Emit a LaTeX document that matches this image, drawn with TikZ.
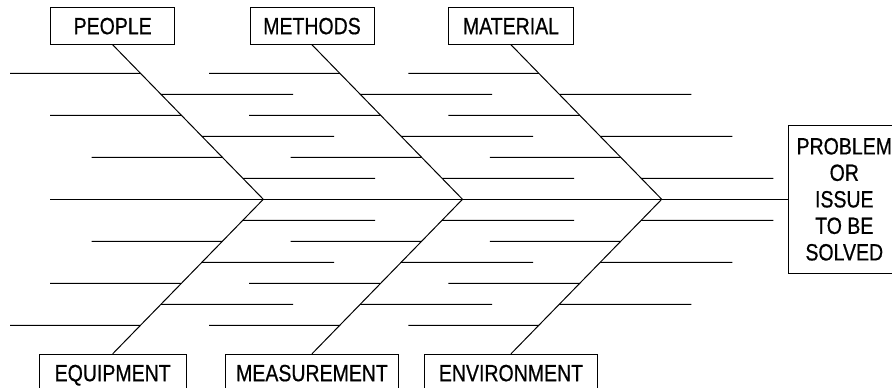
\documentclass[tikz,border=0pt]{standalone}
\usepackage{fontspec}
\setmainfont[FakeStretch=0.83,FakeBold=0.6]{Liberation Sans}
\usetikzlibrary{calc}
\begin{document}
\begin{tikzpicture}[x=1pt,y=-1pt,
  catbox/.style={draw, line width=1pt, minimum width=124pt, minimum height=37pt, inner sep=0pt,
    font=\fontsize{23.5}{26.5}\selectfont, text height=16.8pt, text depth=0pt},
  probbox/.style={draw, line width=1pt, minimum width=112pt, minimum height=148.3pt, inner sep=0pt,
    align=center, font=\fontsize{23.5}{26.5}\selectfont},
  bone/.style={line width=1pt},
  rib/.style={line width=1pt}]
\useasboundingbox (0,0) rectangle (892,388);
\node[catbox] (people) at (112.7,25.8) {PEOPLE};
\node[catbox] (methods) at (312,25.8) {METHODS};
\node[catbox, minimum width=124.6pt] (material) at (511,25.8) {MATERIAL};
\node[catbox, minimum width=146.7pt] (equip) at (112.7,372.8) {EQUIPMENT};
\node[catbox, minimum width=173.4pt] (meas) at (312,372.8) {MEASUREMENT};
\node[catbox, minimum width=173.4pt] (env) at (511,372.8) {ENVIRONMENT};
\node[probbox] (problem) at (844.3,199.3) {PROBLEM\\OR\\ISSUE\\TO BE\\SOLVED};
\coordinate (a0) at (263.3,199.3);
\coordinate (a1) at (462.5,199.3);
\coordinate (a2) at (661.7,199.3);
\coordinate (s) at (50,199.3);
\draw[bone] (s) -- (problem.west);
\foreach \tp/\bt/\ap/\o in {people/equip/a0/0, methods/meas/a1/199.2, material/env/a2/398.4}{
  \draw[bone] (\tp.south) -- (\ap) -- (\bt.north);
  \foreach \k/\xs in {0/10,2/50,4/91.5}{
    \coordinate (e) at (\xs+\o,73.3+21*\k);
    \draw[rib] (e) -- ($(\tp.south)!{(73.3+21*\k-44.8)/154.5}!(\ap)$);
  }
  \foreach \k/\xs in {1/293,3/334,5/375}{
    \coordinate (e) at (\xs+\o,73.3+21*\k);
    \draw[rib] ($(\tp.south)!{(73.3+21*\k-44.8)/154.5}!(\ap)$) -- (e);
  }
  \foreach \k/\xs in {8/91.5,10/50,12/10}{
    \coordinate (e) at (\xs+\o,73.3+21*\k);
    \draw[rib] (e) -- ($(\ap)!{(73.3+21*\k-199.3)/154.5}!(\bt.north)$);
  }
  \foreach \k/\xs in {7/375,9/334,11/293}{
    \coordinate (e) at (\xs+\o,73.3+21*\k);
    \draw[rib] ($(\ap)!{(73.3+21*\k-199.3)/154.5}!(\bt.north)$) -- (e);
  }
}
\end{tikzpicture}
\end{document}
